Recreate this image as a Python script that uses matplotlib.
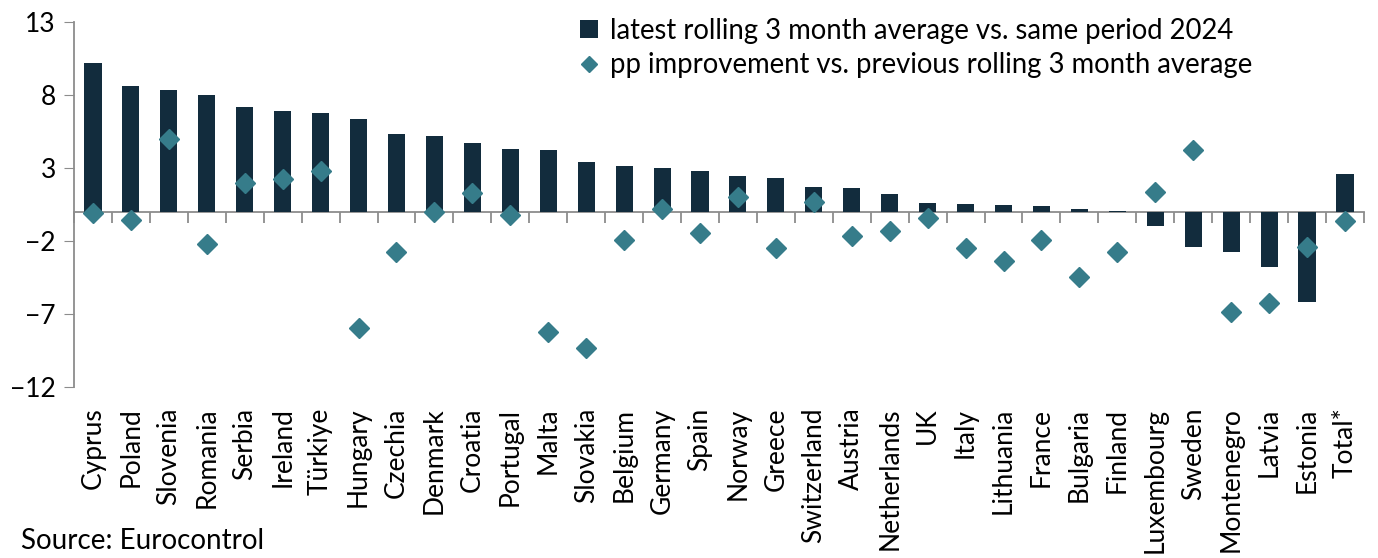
import numpy as np
import matplotlib.pyplot as plt

plt.rcParams['font.family'] = ['Lato', 'DejaVu Sans']

countries = ['Cyprus', 'Poland', 'Slovenia', 'Romania', 'Serbia', 'Ireland', 'Türkiye',
             'Hungary', 'Czechia', 'Denmark', 'Croatia', 'Portugal', 'Malta', 'Slovakia',
             'Belgium', 'Germany', 'Spain', 'Norway', 'Greece', 'Switzerland', 'Austria',
             'Netherlands', 'UK', 'Italy', 'Lithuania', 'France', 'Bulgaria', 'Finland',
             'Luxembourg', 'Sweden', 'Montenegro', 'Latvia', 'Estonia', 'Total*']

# latest rolling 3 month average vs. same period 2024
latest_vs_2024 = [10.15, 8.6, 8.33, 7.99, 7.14, 6.87, 6.78, 6.37, 5.32, 5.2,
                  4.7, 4.25, 4.22, 3.4, 3.1, 2.95, 2.79, 2.4, 2.28, 1.66,
                  1.62, 1.23, 0.55, 0.5, 0.46, 0.37, 0.14, 0.05, -1.0, -2.4,
                  -2.77, -3.8, -6.2, 2.6]

# pp improvement vs. previous rolling 3 month average
pp_improvement = [-0.1, -0.55, 4.95, -2.2, 1.97, 2.2, 2.75, -8.0, -2.8, -0.05,
                  1.28, -0.27, -8.25, -9.38, -1.92, 0.17, -1.45, 1.0, -2.5, 0.67,
                  -1.65, -1.34, -0.47, -2.5, -3.41, -1.95, -4.5, -2.76, 1.34, 4.2,
                  -6.85, -6.3, -2.43, -0.65]

y_ticks = [13, 8, 3, -2, -7, -12]

bar_color = '#122c3d'
dot_color = '#367c8a'
axis_color = '#8c8c8c'

fig = plt.figure(figsize=(13.78, 5.58), dpi=100)
ax = fig.add_axes([0.0537, 0.307, 0.9361, 0.654])

x = np.arange(len(countries))
bars = ax.bar(x, latest_vs_2024, width=0.45, color=bar_color, zorder=2,
              label='latest rolling 3 month average vs. same period 2024')
dots, = ax.plot(x, pp_improvement, linestyle='none', marker='D', markersize=10.5,
                color=dot_color, zorder=3,
                label='pp improvement vs. previous rolling 3 month average')

ax.set_xlim(-0.5, len(countries) - 0.5)
ax.set_ylim(-12, 13)
ax.set_yticks(y_ticks)
ax.tick_params(axis='y', labelsize=19, length=7, color=axis_color, pad=6)

for side in ['top', 'right']:
    ax.spines[side].set_visible(False)
ax.spines['left'].set_color(axis_color)
ax.spines['left'].set_linewidth(1.3)
ax.spines['bottom'].set_position(('data', 0))
ax.spines['bottom'].set_color(axis_color)
ax.spines['bottom'].set_linewidth(1.3)
ax.spines['bottom'].set_zorder(1)

# ticks between categories on the zero line
ax.set_xticks(np.arange(len(countries) + 1) - 0.5)
ax.set_xticklabels([])
ax.tick_params(axis='x', length=8, color=axis_color, width=1.3)

# category labels at the bottom of the plot
sec = ax.secondary_xaxis(0.0)
sec.set_xticks(x)
sec.set_xticklabels(countries, rotation=90, fontsize=19)
sec.tick_params(length=0, pad=15)
sec.spines['bottom'].set_visible(False)

leg = ax.legend(handles=[bars, dots], loc='upper left',
                bbox_to_anchor=(566 / 1378, 1 - 4 / 558), bbox_transform=fig.transFigure,
                frameon=False, fontsize=19.8, handlelength=0.65, handleheight=0.65,
                handletextpad=0.45, labelspacing=0.3, markerscale=0.75, borderpad=0)

fig.text(0.015, 0.03, 'Source: Eurocontrol', fontsize=20, ha='left', va='center')

fig.savefig('out.png', dpi=100)
